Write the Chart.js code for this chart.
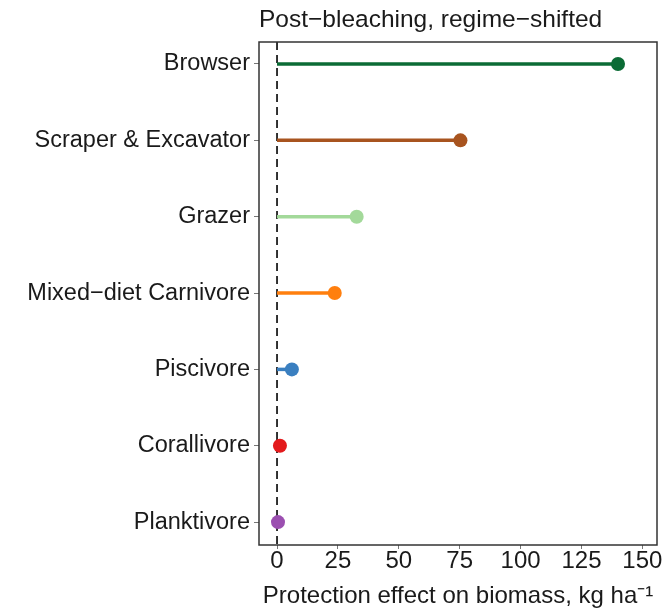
<!DOCTYPE html>
<html>
<head>
<meta charset="utf-8">
<script src="https://cdn.jsdelivr.net/npm/chart.js@4.4.1/dist/chart.umd.min.js"></script>
<style>
  html, body { margin: 0; padding: 0; background: #fff; }
  #wrap { width: 664px; height: 612px; }
</style>
</head>
<body>
<div id="wrap"><canvas id="c" width="664" height="612"></canvas></div>
<script>
const groups = ['Browser', 'Scraper & Excavator', 'Grazer', 'Mixed\u2212diet Carnivore', 'Piscivore', 'Corallivore', 'Planktivore'];
const effect = [140, 75.3, 32.7, 23.7, 6.1, 1.2, 0.4];
const groupColors = ['#0b6b35', '#a8541f', '#a3d99a', '#ff7f0e', '#3a7fc0', '#e31a1c', '#9b4fb0'];
const xTicks = [0, 25, 50, 75, 100, 125, 150];

const family = '"Liberation Sans", Arial, sans-serif';
const ink = '#1a1a1a';

// dashed zero line + closed box around plot area
const frame = {
  id: 'frame',
  beforeDatasetsDraw(chart) {
    const { ctx, chartArea: a, scales } = chart;
    const x0 = scales.x.getPixelForValue(0);
    ctx.save();
    ctx.strokeStyle = '#111';
    ctx.lineWidth = 1.7;
    ctx.setLineDash([8, 5]);
    ctx.beginPath();
    ctx.moveTo(x0, a.top);
    ctx.lineTo(x0, a.bottom);
    ctx.stroke();
    ctx.restore();
  },
  afterDraw(chart) {
    const { ctx, chartArea: a } = chart;
    ctx.save();
    ctx.strokeStyle = '#333';
    ctx.lineWidth = 1.5;
    ctx.strokeRect(a.left, a.top, a.right - a.left, a.bottom - a.top);
    ctx.restore();
  }
};

new Chart(document.getElementById('c'), {
  type: 'scatter',
  data: {
    datasets: groups.map((g, i) => ({
      label: g,
      data: [{ x: 0, y: i }, { x: effect[i], y: i }],
      showLine: true,
      borderColor: groupColors[i],
      borderWidth: 3.5,
      backgroundColor: groupColors[i],
      pointBackgroundColor: groupColors[i],
      pointBorderWidth: 0,
      pointRadius: [0, 7],
      pointHoverRadius: [0, 7]
    }))
  },
  options: {
    responsive: false,
    animation: false,
    layout: { padding: { left: 0, right: 6, top: 2, bottom: 1.6 } },
    plugins: {
      legend: { display: false },
      tooltip: { enabled: false },
      title: {
        display: true,
        text: 'Post\u2212bleaching, regime\u2212shifted',
        align: 'start',
        fullSize: false,
        color: ink,
        font: { family, size: 24.5, weight: 'normal' },
        padding: { top: 3.3, bottom: 7.3 }
      }
    },
    scales: {
      x: {
        type: 'linear',
        min: -7.4,
        max: 156,
        afterBuildTicks: axis => { axis.ticks = xTicks.map(v => ({ value: v })); },
        ticks: { color: ink, font: { family, size: 24 }, padding: -2, maxRotation: 0, autoSkip: false },
        grid: { drawOnChartArea: false, drawTicks: true, tickLength: 4, color: '#777' },
        border: { display: false },
        title: {
          display: true,
          text: 'Protection effect on biomass, kg ha\u207B\u00B9',
          color: ink,
          font: { family, size: 24 },
          padding: { top: 0, bottom: 0 }
        },
        afterFit: axis => { axis.height = 65.4; }
      },
      y: {
        type: 'linear',
        reverse: true,
        min: -0.288,
        max: 6.3,
        afterBuildTicks: axis => { axis.ticks = groups.map((g, i) => ({ value: i })); },
        ticks: { color: ink, font: { family, size: 23.5 }, padding: 4, callback: v => groups[v] },
        grid: { drawOnChartArea: false, drawTicks: true, tickLength: 5, color: '#777' },
        border: { display: false },
        afterFit: axis => { axis.width = 259; }
      }
    }
  },
  plugins: [frame]
});
</script>
</body>
</html>
